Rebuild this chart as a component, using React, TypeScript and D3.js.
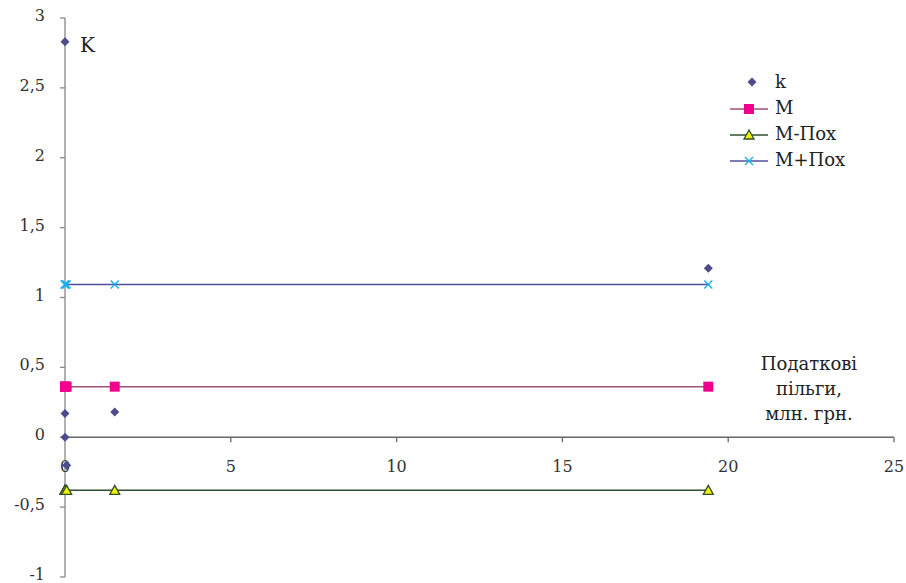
import React from "react";
import * as d3 from "d3";

const xVals = [0, 0, 0, 0.05, 1.5, 19.4];
const kVals = [2.83, 0.17, 0, -0.2, 0.18, 1.21];
const mVal = 0.362;
const mMinus = -0.38;
const mPlus = 1.093;
const xTicks = [0, 5, 10, 15, 20, 25];
const yTicks = [-1, -0.5, 0, 0.5, 1, 1.5, 2, 2.5, 3];
const legendLabels = ["k", "M", "M-Пох", "M+Пох"];
const xTitle = ["Податкові", "пільги,", "млн. грн."];
const yTitle = "K";

const W = 906, H = 583;
const FONT = "DejaVu Serif, Liberation Serif, Times New Roman, serif";

export default function App() {
  const x = d3.scaleLinear().domain([0, 25]).range([65, 894]);
  const y = d3.scaleLinear().domain([-1, 3]).range([577, 18]);
  const fmt = (v: number) => String(v).replace(".", ",");
  const lineX = [xVals[0], xVals[4], xVals[5]];

  const diamond = (cx: number, cy: number, key: any) => (
    <path key={key} d={`M${cx},${cy - 4.5}L${cx + 4.5},${cy}L${cx},${cy + 4.5}L${cx - 4.5},${cy}Z`} fill="#4C4C8C" />
  );
  const square = (cx: number, cy: number, key: any) => (
    <rect key={key} x={cx - 5} y={cy - 5} width={10} height={10} fill="#F0008C" />
  );
  const tri = (cx: number, cy: number, key: any) => (
    <path key={key} d={`M${cx},${cy - 5}L${cx + 5},${cy + 4}L${cx - 5},${cy + 4}Z`} fill="#F5F000" stroke="#2F4F2F" strokeWidth={1.3} />
  );
  const cross = (cx: number, cy: number, key: any) => (
    <path key={key} d={`M${cx - 4},${cy - 4}L${cx + 4},${cy + 4}M${cx - 4},${cy + 4}L${cx + 4},${cy - 4}`} stroke="#1AB0F0" strokeWidth={1.4} />
  );
  const line = d3.line<number>().x((d) => x(d));
  const ts = { fontFamily: FONT } as React.CSSProperties;

  return (
    <svg width={W} height={H} style={{ position: "absolute", left: 0, top: 0, background: "#fff", fontFamily: FONT }}>
      <path d={line.y(() => y(mVal))(lineX) || ""} stroke="#A0507A" strokeWidth={1.5} fill="none" />
      <path d={line.y(() => y(mMinus))(lineX) || ""} stroke="#2F4F2F" strokeWidth={1.5} fill="none" />
      <path d={line.y(() => y(mPlus))(lineX) || ""} stroke="#5050A0" strokeWidth={1.5} fill="none" />

      <line x1={x(0)} x2={x(0)} y1={y(3)} y2={y(-1)} stroke="#888" strokeWidth={1.3} />
      {yTicks.map((t) => (
        <g key={t}>
          <line x1={x(0) - 5} x2={x(0)} y1={y(t)} y2={y(t)} stroke="#888" strokeWidth={1.3} />
          <text style={ts} x={45} y={y(t) + 3} textAnchor="end" fontSize={16} fill="#333">{fmt(t)}</text>
        </g>
      ))}
      <line x1={x(0)} x2={x(25)} y1={y(0)} y2={y(0)} stroke="#666" strokeWidth={1.3} />
      {xTicks.map((t) => (
        <g key={t}>
          {t > 0 && <line x1={x(t)} x2={x(t)} y1={y(0)} y2={y(0) + 5} stroke="#666" strokeWidth={1.3} />}
          <text style={ts} x={x(t)} y={y(0) + 35} textAnchor="middle" fontSize={16} fill="#333">{t}</text>
        </g>
      ))}

      {xVals.map((v, i) => square(x(v), y(mVal), "s" + i))}
      {xVals.map((v, i) => tri(x(v), y(mMinus), "t" + i))}
      {xVals.map((v, i) => cross(x(v), y(mPlus), "c" + i))}
      {xVals.map((v, i) => diamond(x(v), y(kVals[i]), "d" + i))}

      <text style={ts} x={80} y={52} fontSize={20} fill="#222">{yTitle}</text>
      {xTitle.map((s, i) => (
        <text style={ts} key={s} x={809} y={370 + i * 25} textAnchor="middle" fontSize={18} fill="#222">{s}</text>
      ))}

      {diamond(752, 82, "ld")}
      <line x1={730} x2={768} y1={109} y2={109} stroke="#A0507A" strokeWidth={1.5} />
      {square(749, 109, "ls")}
      <line x1={730} x2={768} y1={135} y2={135} stroke="#2F4F2F" strokeWidth={1.5} />
      {tri(749, 135, "lt")}
      <line x1={730} x2={768} y1={161} y2={161} stroke="#5050A0" strokeWidth={1.5} />
      {cross(749, 161, "lc")}
      {legendLabels.map((s, i) => (
        <text style={ts} key={s} x={775} y={88 + i * 26} fontSize={18} fill="#222">{s}</text>
      ))}
    </svg>
  );
}
